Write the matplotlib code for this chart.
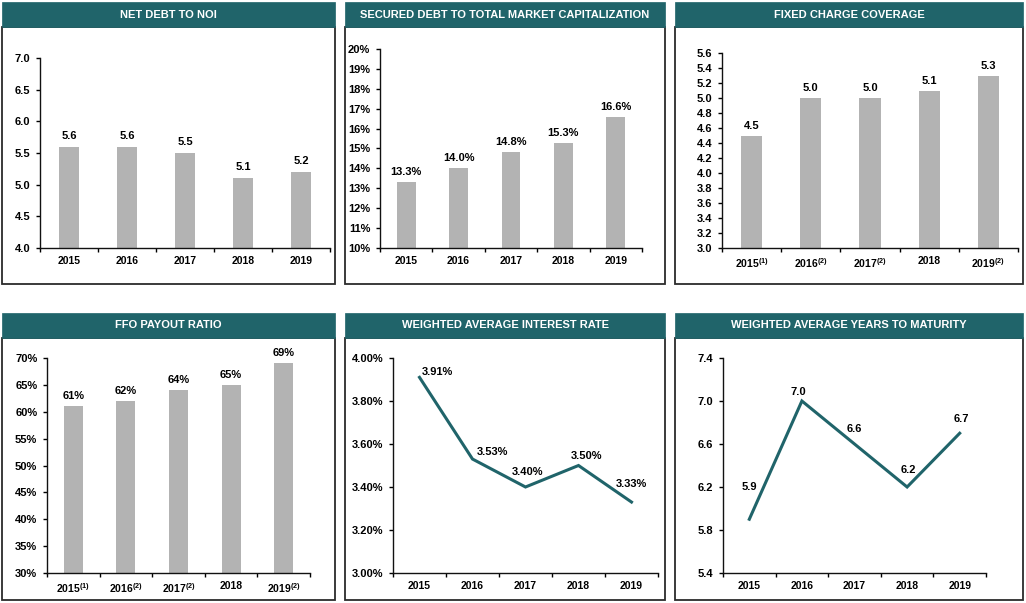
import matplotlib
matplotlib.use("Agg")
import matplotlib.pyplot as plt
from matplotlib.patches import Rectangle
import numpy as np

plt.rcParams['font.family'] = ['Liberation Sans', 'DejaVu Sans']
plt.rcParams['font.weight'] = 'bold'
plt.rcParams['mathtext.fontset'] = 'custom'
plt.rcParams['mathtext.rm'] = 'Liberation Sans:bold'
plt.rcParams['mathtext.bf'] = 'Liberation Sans:bold'

W, H = 1026, 603
TEAL = '#20646a'
GRAY = '#b3b3b3'

years = ['2015', '2016', '2017', '2018', '2019']
years_fn = [r'2015$^{(1)}$', r'2016$^{(2)}$', r'2017$^{(2)}$', '2018', r'2019$^{(2)}$']

net_debt = [5.6, 5.6, 5.5, 5.1, 5.2]
secured_debt = [13.3, 14.0, 14.8, 15.3, 16.6]
fixed_charge = [4.5, 5.0, 5.0, 5.1, 5.3]
ffo_payout = [61, 62, 64, 65, 69]
interest_rate = [3.91, 3.53, 3.40, 3.50, 3.33]
years_maturity = [5.9, 7.0, 6.6, 6.2, 6.7]

titles = ['NET DEBT TO NOI', 'SECURED DEBT TO TOTAL MARKET CAPITALIZATION',
          'FIXED CHARGE COVERAGE', 'FFO PAYOUT RATIO',
          'WEIGHTED AVERAGE INTEREST RATE', 'WEIGHTED AVERAGE YEARS TO MATURITY']

fig = plt.figure(figsize=(W / 100, H / 100), dpi=100)


def panel(x0, x1, ytop, ymid, ybot, title):
    fig.patches.append(Rectangle((x0 / W, 1 - ybot / H), (x1 - x0) / W, (ybot - ymid) / H,
                                 transform=fig.transFigure, facecolor='white',
                                 edgecolor='#2b2b2b', linewidth=1.3, zorder=-10))
    fig.patches.append(Rectangle((x0 / W, 1 - ymid / H), (x1 - x0) / W, (ymid - ytop) / H,
                                 transform=fig.transFigure, facecolor=TEAL,
                                 edgecolor=TEAL, linewidth=0.5, zorder=-9))
    fig.text((x0 + x1) / 2 / W, 1 - (ytop + ymid) / 2 / H, title, color='white',
             fontsize=8.0, fontweight='bold', ha='center', va='center')


def axes(x0, x1, y0, y1):
    ax = fig.add_axes([x0 / W, 1 - y1 / H, (x1 - x0) / W, (y1 - y0) / H])
    ax.set_zorder(5)
    ax.patch.set_alpha(0)
    for s in ['top', 'right']:
        ax.spines[s].set_visible(False)
    for s in ['left', 'bottom']:
        ax.spines[s].set_linewidth(1.0)
        ax.spines[s].set_color('#111111')
    ax.set_xlim(-0.5, 4.5)
    ax.set_xticks(np.arange(-0.5, 5, 1))
    ax.set_xticklabels([])
    ax.set_xticks(np.arange(5), minor=True)
    ax.tick_params(axis='x', which='major', direction='out', length=3, width=1)
    ax.tick_params(axis='x', which='minor', length=0, pad=6, labelsize=7.5)
    ax.tick_params(axis='y', direction='out', length=3, width=1, labelsize=8, pad=4)
    return ax


def point_labels(ax, vals, fmt, offs):
    for xi, v, (dx, dy) in zip(range(len(vals)), vals, offs):
        ax.annotate(fmt % v, (xi, v), xytext=(dx, dy), textcoords='offset pixels',
                    ha='center', va='center', fontsize=8)


# panels
cols = [(2, 335), (345, 665), (675, 1023)]
for i, (x0, x1) in enumerate(cols):
    panel(x0, x1, 2, 27, 284, titles[i])
    panel(x0, x1, 313, 338, 600, titles[i + 3])

x = np.arange(5)

# Net debt to NOI
ax = axes(40, 330, 58, 248)
ax.bar(x, [v - 4.0 for v in net_debt], bottom=4.0, width=0.36, color=GRAY)
ax.set_ylim(4.0, 7.0)
ax.set_yticks(np.arange(4.0, 7.01, 0.5))
ax.set_yticklabels(['%.1f' % t for t in np.arange(4.0, 7.01, 0.5)])
ax.set_xticklabels(years, minor=True)
point_labels(ax, net_debt, '%.1f', [(0, 11)] * 5)

# Secured debt to total market cap
ax = axes(380, 642, 49, 248)
ax.bar(x, [v - 10 for v in secured_debt], bottom=10, width=0.36, color=GRAY)
ax.set_ylim(10, 20)
ax.set_yticks(np.arange(10, 21, 1))
ax.set_yticklabels(['%d%%' % t for t in range(10, 21)])
ax.set_xticklabels(years, minor=True)
point_labels(ax, secured_debt, '%.1f%%', [(0, 10)] * 5)

# Fixed charge coverage
ax = axes(722, 1018, 53, 248)
ax.bar(x, [v - 3.0 for v in fixed_charge], bottom=3.0, width=0.36, color=GRAY)
ax.set_ylim(3.0, 5.6)
ax.set_yticks(np.arange(3.0, 5.61, 0.2))
ax.set_yticklabels(['%.1f' % t for t in np.arange(3.0, 5.61, 0.2)])
ax.set_xticklabels(years_fn, minor=True)
point_labels(ax, fixed_charge, '%.1f', [(0, 10)] * 5)

# FFO payout ratio
ax = axes(47, 310, 358, 573)
ax.bar(x, [v - 30 for v in ffo_payout], bottom=30, width=0.36, color=GRAY)
ax.set_ylim(30, 70)
ax.set_yticks(np.arange(30, 71, 5))
ax.set_yticklabels(['%d%%' % t for t in range(30, 71, 5)])
ax.set_xticklabels(years_fn, minor=True)
point_labels(ax, ffo_payout, '%d%%', [(0, 10)] * 5)

# Weighted average interest rate
ax = axes(393, 658, 358, 573)
ax.plot(x, interest_rate, color=TEAL, linewidth=2.2, solid_joinstyle='miter')
ax.set_ylim(3.0, 4.0)
ax.set_yticks(np.arange(3.0, 4.01, 0.2))
ax.set_yticklabels(['%.2f%%' % t for t in np.arange(3.0, 4.01, 0.2)])
ax.set_xticklabels(years, minor=True)
point_labels(ax, interest_rate, '%.2f%%',
             [(18, 5), (20, 7), (2, 15), (8, 10), (0, 18)])

# Weighted average years to maturity
ax = axes(723, 986, 358, 573)
ax.plot(x, years_maturity, color=TEAL, linewidth=2.2, solid_joinstyle='miter')
ax.set_ylim(5.4, 7.4)
ax.set_yticks(np.arange(5.4, 7.41, 0.4))
ax.set_yticklabels(['%.1f' % t for t in np.arange(5.4, 7.41, 0.4)])
ax.set_xticklabels(years, minor=True)
point_labels(ax, years_maturity, '%.1f',
             [(0, 32), (-4, 9), (0, 15), (1, 17), (2, 14)])

fig.savefig('out.png', dpi=100)
